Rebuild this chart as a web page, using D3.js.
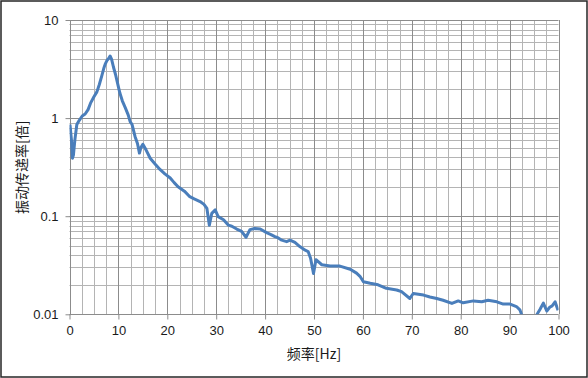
<!DOCTYPE html>
<html>
<head>
<meta charset="utf-8">
<script src="https://cdnjs.cloudflare.com/ajax/libs/d3/7.8.5/d3.min.js"></script>
<style>
    body { margin: 0; background: #fff; }
    svg { display: block; }
</style>
</head>
<body>
<div class="container"></div>
<script>
// frequency [Hz]
var freq = [0.1, 0.4, 0.6, 0.8, 1.1, 1.5, 2.0, 2.6, 3.2, 3.8, 4.3, 5.0, 5.6, 6.1, 6.6, 7.0, 7.3, 7.7, 8.0, 8.3,
    8.6, 9.0, 9.4, 9.8, 10.3, 10.8, 11.4, 12.0, 12.4, 12.8, 13.4, 13.9, 14.3, 14.6, 15.0, 15.6, 16.5, 17.5, 18.5, 19.5,
    20.6, 21.4, 22.2, 23.5, 24.6, 25.5, 26.7, 27.5, 28.1, 28.6, 29.1, 29.8, 30.4, 31.5, 32.5, 33.2, 34.2, 35.2, 36.1, 36.9,
    37.9, 39.0, 40.3, 41.2, 42.0, 42.7, 43.4, 44.4, 45.1, 46.1, 47.1, 48.2, 48.8, 49.3, 49.9, 50.4, 51.6, 53.3, 55.3, 57.4,
    58.7, 59.4, 60.1, 61.5, 63.1, 64.8, 66.9, 67.9, 69.6, 70.3, 72.4, 73.7, 75.1, 76.4, 78.2, 79.5, 80.5, 82.6, 84.3, 85.6,
    87.4, 88.7, 90.1, 91.4, 92.1, 92.5, 93.5, 94.5, 95.5, 96.2, 96.9, 97.6, 98.2, 98.7, 99.3, 99.9];

// transmissibility [x]
var ratio = [0.86, 0.6, 0.39, 0.42, 0.6, 0.86, 0.95, 1.05, 1.1, 1.22, 1.42, 1.65, 1.85, 2.2, 2.7, 3.2, 3.55, 3.9, 4.05, 4.3,
    4.0, 3.3, 2.8, 2.3, 1.8, 1.5, 1.28, 1.08, 0.92, 0.86, 0.65, 0.55, 0.44, 0.5, 0.54, 0.48, 0.39, 0.34, 0.3, 0.27,
    0.245, 0.22, 0.2, 0.18, 0.158, 0.15, 0.141, 0.132, 0.12, 0.081, 0.107, 0.116, 0.099, 0.092, 0.081, 0.079, 0.074, 0.07, 0.061, 0.073,
    0.075, 0.074, 0.068, 0.065, 0.062, 0.06, 0.057, 0.055, 0.057, 0.054, 0.049, 0.045, 0.0436, 0.0373, 0.026, 0.036, 0.032, 0.031, 0.031, 0.0288,
    0.0263, 0.0244, 0.0215, 0.0207, 0.02, 0.0184, 0.0177, 0.017, 0.0145, 0.0163, 0.0157, 0.015, 0.0145, 0.0139, 0.0129, 0.0137, 0.0131, 0.0137, 0.0134, 0.0139,
    0.0134, 0.0127, 0.0127, 0.012, 0.0111, 0.0098, 0.008, 0.008, 0.0098, 0.0112, 0.013, 0.0108, 0.0118, 0.0122, 0.0134, 0.011];

var xTicks = [0, 10, 20, 30, 40, 50, 60, 70, 80, 90, 100];
var yTicks = [0.01, 0.1, 1, 10];
var yTickLabels = ['0.01', '0.1', '1', '10'];
var xTitle = '频率[Hz]';
var yTitle = '振动传递率[倍]';

const WIDTH = 588;
const HEIGHT = 378;
const LEFT = 69.5, RIGHT = 558.5, TOP = 20, BOTTOM = 314.3;
const LATIN = '"Liberation Sans", Arial, sans-serif';
const CJK = '"Noto Sans CJK SC", sans-serif';

var xScale = d3.scaleLinear().domain([0, 100]).range([LEFT, RIGHT]);
var yScale = d3.scaleLog().domain([0.01, 10]).range([BOTTOM, TOP]);

var svg = d3.select('.container').append('svg')
    .attr('width', WIDTH)
    .attr('height', HEIGHT);

svg.append('rect')
    .attr('width', WIDTH).attr('height', HEIGHT)
    .attr('fill', '#fff');

// grid: minor vertical every 2.5 Hz, minor horizontal at 2..9 per decade
var xMinor = d3.range(2.5, 100.01, 2.5);
var yMinor = yScale.ticks().filter(function (d) { return yTicks.indexOf(d) < 0; });

var grid = svg.append('g').classed('grid', true);

grid.selectAll('.vminor')
    .data(xMinor.filter(function (d) { return d % 10 !== 0; }))
    .enter().append('line')
    .attr('x1', function (d) { return Math.round(xScale(d)) + 0.5; })
    .attr('x2', function (d) { return Math.round(xScale(d)) + 0.5; })
    .attr('y1', TOP).attr('y2', BOTTOM)
    .attr('stroke', '#b4b4b4');

grid.selectAll('.hminor')
    .data(yMinor)
    .enter().append('line')
    .attr('x1', LEFT).attr('x2', RIGHT)
    .attr('y1', function (d) { return Math.round(yScale(d)) + 0.5; })
    .attr('y2', function (d) { return Math.round(yScale(d)) + 0.5; })
    .attr('stroke', '#b4b4b4');

grid.selectAll('.vmajor')
    .data(xTicks.slice(1))
    .enter().append('line')
    .attr('x1', function (d) { return Math.round(xScale(d)) + 0.5; })
    .attr('x2', function (d) { return Math.round(xScale(d)) + 0.5; })
    .attr('y1', TOP).attr('y2', BOTTOM)
    .attr('stroke', '#8c8c8c');

grid.selectAll('.hmajor')
    .data(yTicks.slice(1))
    .enter().append('line')
    .attr('x1', LEFT).attr('x2', RIGHT)
    .attr('y1', function (d) { return Math.round(yScale(d)) + 0.5; })
    .attr('y2', function (d) { return Math.round(yScale(d)) + 0.5; })
    .attr('stroke', '#8c8c8c');

// axes
var xAxis = d3.axisBottom(xScale).tickValues(xTicks).tickSize(5).tickPadding(6);
var yAxis = d3.axisLeft(yScale).tickValues(yTicks).tickSize(5).tickPadding(7)
    .tickFormat(function (d, i) { return yTickLabels[i]; });

var gx = svg.append('g')
    .attr('transform', 'translate(0,' + (Math.round(BOTTOM) + 0.5) + ')')
    .call(xAxis);
var gy = svg.append('g')
    .attr('transform', 'translate(' + (Math.round(LEFT) + 0.5) + ',0)')
    .call(yAxis);

[gx, gy].forEach(function (g) {
    g.select('.domain').attr('stroke', '#8c8c8c');
    g.selectAll('.tick line').attr('stroke', '#8c8c8c');
    g.selectAll('.tick text')
        .attr('fill', '#1a1a1a')
        .style('font-family', LATIN)
        .style('font-size', '13px');
});
gx.select('.domain').attr('d', 'M' + LEFT + ',0H' + RIGHT);
gy.select('.domain').attr('d', 'M0,' + TOP + 'V' + BOTTOM);

// curve, clipped to the plot area
svg.append('clipPath').attr('id', 'plot')
    .append('rect')
    .attr('x', LEFT).attr('y', TOP)
    .attr('width', RIGHT - LEFT).attr('height', BOTTOM - TOP);

var line = d3.line()
    .x(function (d, i) { return xScale(freq[i]); })
    .y(function (d) { return yScale(d); });

svg.append('path')
    .datum(ratio)
    .attr('clip-path', 'url(#plot)')
    .attr('d', line)
    .attr('fill', 'none')
    .attr('stroke', '#4a7ebb')
    .attr('stroke-width', 3)
    .attr('stroke-linejoin', 'round');

// titles
svg.append('text')
    .attr('x', (LEFT + RIGHT) / 2)
    .attr('y', 359)
    .attr('text-anchor', 'middle')
    .attr('fill', '#1a1a1a')
    .style('font-family', CJK)
    .style('font-size', '14px')
    .text(xTitle);

svg.append('text')
    .attr('transform', 'translate(27,' + ((TOP + BOTTOM) / 2) + ') rotate(-90)')
    .attr('text-anchor', 'middle')
    .attr('fill', '#1a1a1a')
    .style('font-family', CJK)
    .style('font-size', '14px')
    .text(yTitle);

// outer frame
svg.append('rect')
    .attr('x', 1).attr('y', 1)
    .attr('width', WIDTH - 2).attr('height', HEIGHT - 2)
    .attr('fill', 'none')
    .attr('stroke', '#262626')
    .attr('stroke-width', 1.5);
</script>
</body>
</html>
